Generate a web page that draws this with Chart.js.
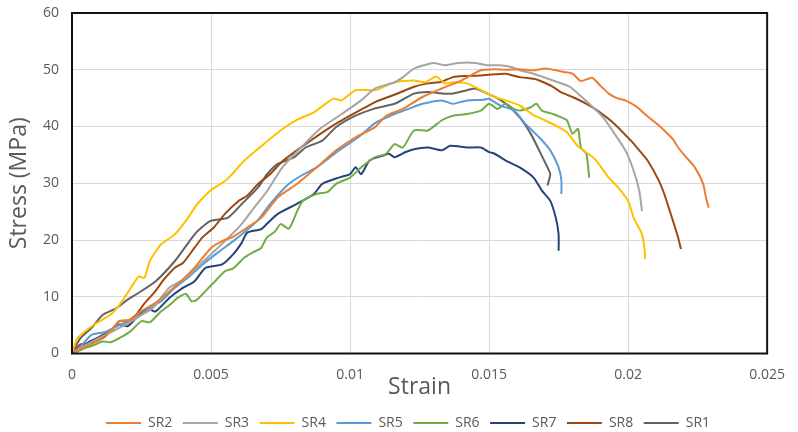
<!DOCTYPE html>
<html>
<head>
<meta charset="utf-8">
<script src="https://cdn.jsdelivr.net/npm/chart.js@4.4.1/dist/chart.umd.min.js"></script>
<style>
  body { margin: 0; background: #fff; }
  #wrap { width: 798px; height: 432px; position: relative; }
</style>
</head>
<body>
<div id="wrap"><canvas id="chart"></canvas></div>
<script>
// series names in legend order
var seriesNames = ["SR2", "SR3", "SR4", "SR5", "SR6", "SR7", "SR8", "SR1"]
var seriesColors = ["#ED7D31", "#A5A5A5", "#FFC000", "#5B9BD5", "#70AD47", "#264478", "#9E480E", "#636363"]

// strain / stress (MPa)
var sr2Strain = [0, 0.0005, 0.001, 0.0015, 0.0017, 0.0021, 0.0025, 0.0029, 0.0034, 0.0038, 0.0044, 0.005, 0.0054, 0.0058, 0.0063, 0.0068, 0.0074, 0.0081, 0.0088, 0.0095, 0.0102, 0.0109, 0.0113, 0.0119, 0.0126, 0.0133, 0.014, 0.0147, 0.0152, 0.0156, 0.0161, 0.0166, 0.017, 0.0173, 0.0177, 0.018, 0.0183, 0.0187, 0.019, 0.0193, 0.0196, 0.0199, 0.0203, 0.0206, 0.021, 0.0213, 0.0216, 0.0218, 0.0221, 0.0224, 0.0227, 0.0228, 0.0229]
var sr2Stress = [0, 1.2, 2.5, 4.5, 5.7, 5.9, 7.5, 8.6, 10.5, 12.2, 15.1, 18.6, 19.8, 20.6, 22.2, 23.9, 27.5, 29.9, 32.8, 35.8, 38.1, 39.9, 41.9, 43.1, 45.2, 46.7, 48.1, 49.9, 50.1, 50.0, 50.1, 49.9, 50.2, 50.0, 49.6, 49.3, 48.0, 48.6, 47.2, 45.8, 45.0, 44.6, 43.5, 42.2, 40.6, 39.3, 37.8, 36.3, 34.5, 32.8, 29.9, 27.5, 25.7]

var sr3Strain = [0, 0.0005, 0.001, 0.0015, 0.002, 0.0023, 0.0029, 0.0035, 0.0041, 0.0045, 0.005, 0.0055, 0.0061, 0.0066, 0.007, 0.0076, 0.0086, 0.009, 0.0097, 0.0104, 0.0109, 0.0116, 0.0119, 0.0123, 0.013, 0.0134, 0.0139, 0.0145, 0.0149, 0.0154, 0.0158, 0.0161, 0.0166, 0.0173, 0.0179, 0.0186, 0.0191, 0.0195, 0.0199, 0.0202, 0.0204, 0.0205]
var sr3Stress = [0, 1.5, 2.8, 4.0, 5.3, 6.2, 8.0, 11.6, 13.3, 15.2, 17.5, 19.8, 22.8, 26.0, 28.5, 33.0, 38.1, 39.9, 42.2, 44.6, 46.7, 47.8, 48.7, 50.2, 51.2, 50.8, 51.2, 51.2, 50.8, 50.8, 50.5, 49.9, 49.3, 48.1, 47.0, 44.0, 41.6, 38.8, 35.8, 32.2, 28.7, 25.1]

var sr4Strain = [0, 0.0002, 0.0008, 0.0014, 0.0018, 0.0022, 0.0024, 0.0026, 0.0028, 0.0032, 0.0037, 0.0041, 0.0045, 0.005, 0.0055, 0.0057, 0.0062, 0.0067, 0.0075, 0.0081, 0.0087, 0.0094, 0.0097, 0.0102, 0.0109, 0.0116, 0.0123, 0.0127, 0.0131, 0.0134, 0.0137, 0.0142, 0.0146, 0.0152, 0.0156, 0.0161, 0.0166, 0.017, 0.0175, 0.0178, 0.0182, 0.0188, 0.0193, 0.0196, 0.02, 0.0202, 0.0205, 0.0206, 0.0206]
var sr4Stress = [0, 2.7, 5.1, 6.9, 9.2, 12.2, 13.6, 13.3, 16.3, 19.2, 21.0, 23.4, 26.3, 28.8, 30.4, 31.3, 34.0, 36.1, 39.3, 41.2, 42.5, 44.9, 44.6, 46.4, 46.4, 47.8, 48.1, 47.8, 48.8, 47.6, 47.8, 47.6, 46.7, 45.2, 44.6, 43.7, 42.0, 41.1, 39.9, 39.0, 36.5, 34.3, 31.0, 29.5, 26.9, 23.9, 21.0, 18.0, 16.6]

var sr5Strain = [0, 0.0003, 0.0007, 0.0012, 0.0017, 0.0023, 0.0028, 0.0032, 0.0037, 0.0042, 0.0047, 0.0053, 0.0058, 0.0063, 0.0067, 0.0071, 0.0078, 0.0083, 0.0088, 0.0096, 0.0103, 0.0109, 0.0116, 0.0121, 0.0126, 0.0133, 0.0137, 0.0142, 0.0148, 0.015, 0.0154, 0.0159, 0.0163, 0.0168, 0.0172, 0.0175, 0.0176, 0.0176]
var sr5Stress = [0, 1.2, 3.3, 3.8, 5.0, 6.2, 8.0, 9.2, 11.6, 13.5, 15.7, 18.0, 19.8, 21.8, 23.6, 26.2, 29.9, 31.5, 32.8, 35.8, 38.1, 40.6, 42.2, 43.1, 44.0, 44.6, 44.0, 44.6, 44.7, 44.9, 43.7, 42.8, 40.5, 38.1, 35.8, 32.8, 30.5, 28.1]

var sr6Strain = [0, 0.0004, 0.0008, 0.0011, 0.0014, 0.0017, 0.0021, 0.0025, 0.0028, 0.0032, 0.0035, 0.0038, 0.0041, 0.0043, 0.0045, 0.0048, 0.0051, 0.0055, 0.0058, 0.0062, 0.0065, 0.0068, 0.007, 0.0073, 0.0075, 0.0078, 0.0081, 0.0083, 0.0088, 0.0092, 0.0095, 0.01, 0.0104, 0.0109, 0.0113, 0.0116, 0.0119, 0.0123, 0.0128, 0.0133, 0.0137, 0.0142, 0.0147, 0.015, 0.0153, 0.0156, 0.0159, 0.0161, 0.0165, 0.0167, 0.0169, 0.0173, 0.0176, 0.0178, 0.018, 0.0182, 0.0183, 0.0185, 0.0186]
var sr6Stress = [0, 0.8, 1.5, 2.1, 2.0, 2.7, 3.9, 5.7, 5.5, 7.4, 8.5, 9.8, 10.5, 9.2, 9.5, 11.0, 12.5, 14.5, 15.0, 16.9, 17.8, 18.6, 20.4, 21.5, 22.8, 22.0, 25.1, 26.9, 28.1, 28.5, 29.9, 31.0, 32.8, 34.6, 35.2, 36.9, 36.3, 39.3, 39.3, 41.1, 41.9, 42.2, 42.8, 44.0, 43.1, 44.0, 43.1, 42.8, 43.4, 44.0, 42.8, 42.2, 41.6, 41.1, 38.7, 39.6, 36.3, 35.2, 31.0]

var sr7Strain = [0, 0.0003, 0.0006, 0.0009, 0.0013, 0.0017, 0.002, 0.0023, 0.0027, 0.003, 0.0035, 0.004, 0.0044, 0.0048, 0.0054, 0.0058, 0.0061, 0.0063, 0.0068, 0.007, 0.0074, 0.0081, 0.0087, 0.009, 0.0096, 0.01, 0.0102, 0.0104, 0.0107, 0.0112, 0.0114, 0.0116, 0.012, 0.0123, 0.0128, 0.0133, 0.0136, 0.0142, 0.0147, 0.015, 0.0152, 0.0156, 0.0161, 0.0166, 0.0169, 0.0172, 0.0174, 0.0175, 0.0175]
var sr7Stress = [0, 0.9, 2.0, 2.7, 3.8, 5.1, 4.8, 6.2, 8.0, 7.4, 9.8, 11.6, 12.7, 15.1, 15.7, 17.5, 19.5, 21.3, 21.9, 22.8, 24.6, 26.4, 28.1, 29.9, 31.0, 31.6, 32.8, 31.6, 34.0, 34.9, 35.2, 34.6, 35.5, 36.0, 36.3, 35.8, 36.6, 36.3, 36.3, 35.5, 35.2, 34.0, 32.8, 31.0, 28.7, 26.9, 23.9, 21.0, 18.1]

var sr8Strain = [0, 0.0003, 0.0007, 0.0011, 0.0014, 0.0017, 0.002, 0.0023, 0.0026, 0.003, 0.0033, 0.0037, 0.004, 0.0044, 0.0047, 0.0051, 0.0055, 0.006, 0.0063, 0.0067, 0.0071, 0.0076, 0.0084, 0.0093, 0.01, 0.0109, 0.0116, 0.0123, 0.0128, 0.0133, 0.0137, 0.0142, 0.0147, 0.0152, 0.0156, 0.0161, 0.0166, 0.0168, 0.0173, 0.0176, 0.018, 0.0185, 0.0189, 0.0195, 0.0201, 0.0204, 0.0207, 0.0211, 0.0213, 0.0215, 0.0218, 0.0219]
var sr8Stress = [0, 1.6, 1.8, 2.7, 4.0, 5.7, 5.8, 6.8, 8.8, 11.0, 13.0, 15.1, 16.0, 18.6, 20.5, 22.2, 24.6, 26.9, 27.8, 29.9, 31.5, 34.0, 36.9, 39.9, 41.9, 44.3, 45.6, 47.0, 47.6, 47.9, 48.7, 48.9, 49.0, 49.2, 49.3, 48.7, 48.4, 48.1, 47.0, 46.0, 45.2, 44.0, 42.8, 40.5, 37.5, 35.8, 34.0, 30.5, 28.1, 25.1, 20.4, 18.4]

var sr1Strain = [0, 0.0003, 0.0007, 0.0011, 0.0016, 0.002, 0.0023, 0.003, 0.0037, 0.0043, 0.0045, 0.005, 0.0056, 0.0061, 0.0067, 0.007, 0.0074, 0.008, 0.0084, 0.009, 0.0095, 0.0102, 0.0109, 0.0116, 0.0123, 0.0128, 0.0133, 0.0137, 0.0142, 0.0145, 0.0148, 0.0152, 0.0156, 0.0161, 0.0165, 0.0168, 0.0171, 0.0172, 0.0171]
var sr1Stress = [0, 2.7, 4.5, 6.8, 8.0, 9.5, 10.4, 12.7, 16.3, 20.3, 21.5, 23.4, 23.9, 26.3, 29.3, 31.5, 33.4, 34.6, 36.3, 37.5, 39.9, 41.9, 43.2, 44.0, 45.8, 46.1, 45.8, 45.8, 46.4, 46.7, 46.1, 45.2, 44.0, 41.6, 38.7, 35.8, 32.8, 31.6, 29.6]

var strainData = [sr2Strain, sr3Strain, sr4Strain, sr5Strain, sr6Strain, sr7Strain, sr8Strain, sr1Strain]
var stressData = [sr2Stress, sr3Stress, sr4Stress, sr5Stress, sr6Stress, sr7Stress, sr8Stress, sr1Stress]

var textColor = "#595959"
var fontName = "'Open Sans', sans-serif"

function makePoints(xs, ys){
    var pts = []
    for(var i = 0; i < xs.length; i++){
        pts.push({x: xs[i], y: ys[i]})
    }
    return pts
}

var datasets = []
for(var i = 0; i < seriesNames.length; i++){
    datasets.push({
        label: seriesNames[i],
        data: makePoints(strainData[i], stressData[i]),
        borderColor: seriesColors[i],
        backgroundColor: seriesColors[i],
        borderWidth: 2,
        pointRadius: 0,
        showLine: true,
        tension: 0.2,
        fill: false
    })
}

// black frame round the plot area
var framePlugin = {
    id: "frame",
    afterDraw: function(chart){
        var a = chart.chartArea
        var ctx = chart.ctx
        ctx.save()
        ctx.strokeStyle = "#111"
        ctx.lineWidth = 2
        ctx.strokeRect(a.left, a.top, a.right - a.left, a.bottom - a.top)
        ctx.restore()
    }
}

var ctx = document.getElementById("chart").getContext("2d")
var myChart = new Chart(ctx, {
    type: "scatter",
    data: { datasets: datasets },
    plugins: [framePlugin],
    options: {
        responsive: true,
        maintainAspectRatio: false,
        animation: false,
        layout: { autoPadding: false, padding: { left: 38, right: 20, top: 13, bottom: -8 } },
        plugins: {
            tooltip: { enabled: false },
            legend: {
                position: "bottom",
                labels: {
                    usePointStyle: true,
                    pointStyle: "line",
                    pointStyleWidth: 35,
                    padding: 10.5,
                    color: textColor,
                    font: { family: fontName, size: 14 }
                }
            }
        },
        scales: {
            x: {
                type: "linear",
                min: 0,
                max: 0.025,
                border: { display: false },
                grid: { color: "#d9d9d9", drawTicks: false },
                ticks: {
                    stepSize: 0.005,
                    padding: 13,
                    color: textColor,
                    font: { family: fontName, size: 14 },
                    callback: function(v){ return String(+v.toFixed(3)) }
                },
                title: {
                    display: true,
                    text: "Strain",
                    color: textColor,
                    font: { family: fontName, size: 23 },
                    padding: { top: 0, bottom: 4 }
                },
                afterFit: function(scale){ scale.height = 52 }
            },
            y: {
                min: 0,
                max: 60,
                border: { display: false },
                grid: { color: "#d9d9d9", drawTicks: false },
                ticks: {
                    stepSize: 10,
                    padding: 13,
                    color: textColor,
                    font: { family: fontName, size: 14 }
                },
                title: {
                    display: true,
                    text: "Stress (MPa)",
                    color: textColor,
                    font: { family: fontName, size: 23 },
                    padding: { top: -32, bottom: 0 }
                },
                afterFit: function(scale){
                    scale.width = 34
                    scale.paddingTop = 0
                    scale.paddingBottom = 0
                }
            }
        }
    }
})
</script>
</body>
</html>
